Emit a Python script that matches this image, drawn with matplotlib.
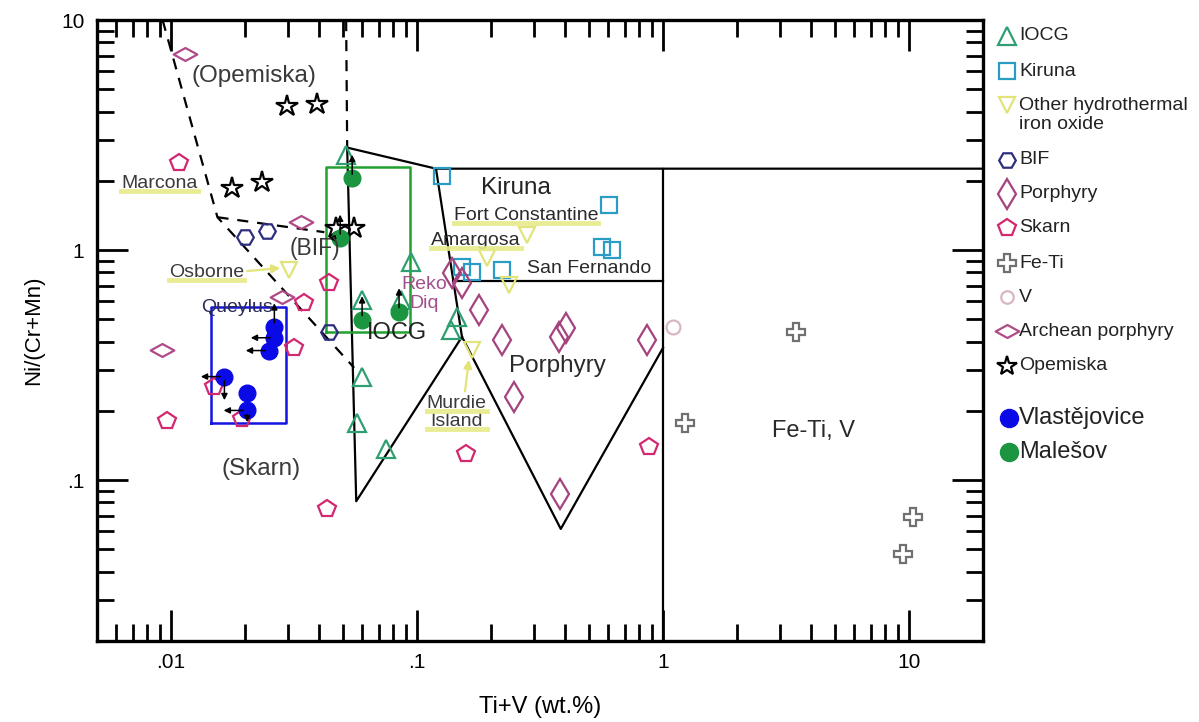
import matplotlib.pyplot as plt
import matplotlib.path as mpath
from matplotlib.ticker import FixedLocator, LogLocator, NullFormatter
from matplotlib.lines import Line2D

plt.rcParams['font.family'] = ['Liberation Sans', 'DejaVu Sans']

# reference deposit types: Ti+V (wt.%) vs Ni/(Cr+Mn)
iocg_x = [0.0515, 0.0945, 0.0598, 0.0861, 0.145, 0.137, 0.0598, 0.0571, 0.0749]
iocg_y = [2.58, 0.887, 0.608, 0.608, 0.513, 0.451, 0.282, 0.178, 0.136]
kiruna_x = [0.126, 0.601, 0.563, 0.618, 0.152, 0.167, 0.221]
kiruna_y = [2.11, 1.566, 1.03, 1.0, 0.844, 0.803, 0.819]
other_x = [0.0302, 0.279, 0.192, 0.236, 0.167]
other_y = [0.819, 1.16, 0.923, 0.706, 0.369]
bif_x = [0.0199, 0.0246, 0.0440]
bif_y = [1.138, 1.21, 0.442]
porphyry_x = [0.139, 0.152, 0.1785, 0.221, 0.377, 0.402, 0.857, 0.247, 0.380]
porphyry_y = [0.795, 0.72, 0.55, 0.408, 0.42, 0.46, 0.408, 0.231, 0.087]
skarn_x = [0.0108, 0.0440, 0.0348, 0.0317, 0.0150, 0.00959, 0.0195, 0.158, 0.0431, 0.873]
skarn_y = [2.38, 0.72, 0.590, 0.376, 0.253, 0.180, 0.184, 0.130, 0.0749, 0.140]
feti_x = [3.48, 1.234, 10.38, 9.46]
feti_y = [0.442, 0.178, 0.0691, 0.0478]
v_x = [1.103]
v_y = [0.464]
arch_x = [0.01135, 0.0338, 0.0283, 0.00915]
arch_y = [7.12, 1.32, 0.626, 0.369]
opemiska_x = [0.0297, 0.0393, 0.01776, 0.0235, 0.0469, 0.0555]
opemiska_y = [4.24, 4.33, 1.855, 1.97, 1.245, 1.245]

# samples from this study
vlast_x = [0.0263, 0.0263, 0.0251, 0.01648, 0.0204, 0.0204]
vlast_y = [0.464, 0.416, 0.366, 0.282, 0.240, 0.201]
vlast_arrows = [[(0, 1)], [(-1, 0)], [(-1, 0)], [(-1, 0), (0, -1)], [], [(-1, 0), (0, -0.5)]]
males_x = [0.0545, 0.0487, 0.0598, 0.0845]
males_y = [2.05, 1.127, 0.498, 0.539]
males_arrows = [[(0, 1)], [(0, 1), (-0.5, 0)], [(0, 1)], [(0, 1)]]

# field boundaries
dash_left = ([0.00924, 0.01544, 0.0555], [10, 1.39, 0.308])
dash_bif = ([0.01544, 0.042], [1.39, 1.197])
dash_right = ([0.0515, 0.052], [10, 2.79])
solid_lines = [
    ([0.052, 0.0566, 0.1523], [2.79, 0.081, 0.42]),
    ([0.052, 0.1194, 20], [2.79, 2.26, 2.26]),
    ([0.1194, 0.1523, 0.384, 1.0], [2.26, 0.42, 0.0614, 0.376]),
    ([0.1406, 1.0], [0.734, 0.734]),
    ([1.0, 1.0], [2.26, 0.02]),
]
iocg_box = (0.0428, 0.0937, 0.442, 2.29)
vlast_box = (0.0146, 0.0294, 0.1766, 0.567)

c_iocg = '#2f9e70'
c_kiruna = '#2a9cc6'
c_other = '#e2e47a'
c_bif = '#2e2e7e'
c_porph = '#a4437e'
c_skarn = '#d2286f'
c_feti = '#707070'
c_v = '#d9b6c6'
c_arch = '#b04a88'
c_vlast = '#0a0ae6'
c_males = '#1b9540'
c_hl = '#e6ea8a'

wide_diamond = mpath.Path([(-1, 0), (0, 0.55), (1, 0), (0, -0.55), (-1, 0)], closed=True)
quatrefoil = 'P'

fig = plt.figure(figsize=(11.99, 7.22), dpi=100)
ax = fig.add_axes([0.0809, 0.1122, 0.739, 0.860])
ax.set_xscale('log')
ax.set_yscale('log')
ax.set_xlim(0.005, 20)
ax.set_ylim(0.02, 10)

for xs, ys in (dash_left, dash_bif, dash_right):
    ax.plot(xs, ys, color='black', lw=1.6, ls=(0, (5, 4)), zorder=2)
for xs, ys in solid_lines:
    ax.plot(xs, ys, color='black', lw=1.6, zorder=2)

x0, x1, y0, y1 = iocg_box
ax.plot([x0, x1, x1, x0, x0], [y0, y0, y1, y1, y0], color='#22a030', lw=1.8, zorder=2)
x0, x1, y0, y1 = vlast_box
ax.plot([x0, x1, x1, x0, x0], [y0, y0, y1, y1, y0], color='#1414e0', lw=1.8, zorder=2)

open_kw = dict(ls='none', mfc='none', mew=1.6, zorder=3)
ax.plot(iocg_x, iocg_y, marker='^', ms=13, mec=c_iocg, **open_kw)
ax.plot(kiruna_x, kiruna_y, marker='s', ms=11, mec=c_kiruna, **open_kw)
ax.plot(other_x, other_y, marker='v', ms=12, mec=c_other, **open_kw)
ax.plot(bif_x, bif_y, marker='H', ms=12, mec=c_bif, **open_kw)
ax.plot(porphyry_x, porphyry_y, marker='d', ms=15, mec=c_porph, **open_kw)
ax.plot(skarn_x, skarn_y, marker='p', ms=13, mec=c_skarn, **open_kw)
ax.plot(feti_x, feti_y, marker=quatrefoil, ms=13, mec=c_feti, **open_kw)
ax.plot(v_x, v_y, marker='o', ms=10, mec=c_v, **open_kw)
ax.plot(arch_x, arch_y, marker=wide_diamond, ms=17, mec=c_arch, **open_kw)
ax.plot(opemiska_x, opemiska_y, marker='*', ms=16, mec='black', **open_kw)

ax.plot(vlast_x, vlast_y, marker='o', ms=12, ls='none', color=c_vlast, zorder=5)
ax.plot(males_x, males_y, marker='o', ms=12, ls='none', color=c_males, zorder=5)

for xs, ys, arrs in ((vlast_x, vlast_y, vlast_arrows), (males_x, males_y, males_arrows)):
    for x, y, dirs in zip(xs, ys, arrs):
        for dx, dy in dirs:
            ax.annotate('', xy=(x, y), xytext=(dx * 17, dy * 17), textcoords='offset points',
                        arrowprops=dict(arrowstyle='<|-', color='black', lw=1.1,
                                        mutation_scale=9, shrinkA=0, shrinkB=3),
                        zorder=6)

# field names and deposit labels
labels = [
    ('(Opemiska)', 0.0218, 5.72, 17.5, '#3a3a3a', False),
    ('Marcona', 0.00898, 1.95, 14, '#3a3a3a', True),
    ('(BIF)', 0.0386, 1.02, 16.5, '#3a3a3a', False),
    ('Osborne', 0.01393, 0.803, 14, '#3a3a3a', True),
    ('Queylus', 0.01862, 0.561, 14, '#2a2a55', False),
    ('(Skarn)', 0.02328, 0.1116, 17.5, '#3a3a3a', False),
    ('IOCG', 0.0829, 0.437, 17, '#222222', False),
    ('Reko\nDiq', 0.1067, 0.645, 14, '#a0508a', False),
    ('Kiruna', 0.252, 1.855, 17.5, '#222222', False),
    ('Fort Constantine', 0.277, 1.418, 14, '#2a2a2a', True),
    ('Amargosa', 0.1735, 1.105, 14, '#2a2a2a', True),
    ('San Fernando', 0.503, 0.836, 14, '#2a2a2a', False),
    ('Porphyry', 0.373, 0.315, 17.5, '#2a2a2a', False),
    ('Murdie\nIsland', 0.145, 0.197, 14, '#3a3a3a', True),
    ('Fe-Ti, V', 4.08, 0.163, 17, '#2a2a2a', False),
]
underlined = []
for txt, x, y, fs, col, ul in labels:
    t = ax.text(x, y, txt, fontsize=fs, color=col, ha='center', va='center',
                linespacing=1.12, zorder=7)
    if ul:
        underlined.append(t)

ax.annotate('', xy=(0.0278, 0.836), xytext=(0.0204, 0.811),
            arrowprops=dict(arrowstyle='-|>', color=c_other, lw=1.6, mutation_scale=12,
                            shrinkA=0, shrinkB=0))
ax.annotate('', xy=(0.1625, 0.334), xytext=(0.1566, 0.243),
            arrowprops=dict(arrowstyle='-|>', color=c_other, lw=1.6, mutation_scale=12,
                            shrinkA=0, shrinkB=0))

ax.xaxis.set_major_locator(FixedLocator([0.01, 0.1, 1, 10]))
ax.set_xticklabels(['.01', '.1', '1', '10'])
ax.yaxis.set_major_locator(FixedLocator([0.1, 1, 10]))
ax.set_yticklabels(['.1', '1', '10'])
for axis in (ax.xaxis, ax.yaxis):
    axis.set_minor_locator(LogLocator(base=10, subs=range(2, 10), numticks=20))
    axis.set_minor_formatter(NullFormatter())
ax.tick_params(which='both', direction='in', top=True, right=True, width=2, labelsize=15, pad=9)
ax.tick_params(which='major', length=22)
ax.tick_params(which='minor', length=12)
for s in ax.spines.values():
    s.set_linewidth(2.4)

ax.set_xlabel('Ti+V (wt.%)', fontsize=17, labelpad=17)
ax.set_ylabel('Ni/(Cr+Mn)', fontsize=16, labelpad=12)

# highlight bars under the named deposits
fig.canvas.draw()
renderer = fig.canvas.get_renderer()
inv = fig.transFigure.inverted()
for t in underlined:
    lines = t.get_text().split('\n')
    bb = t.get_window_extent(renderer)
    h = bb.height / len(lines)
    for i in range(len(lines)):
        ybase = bb.y1 - h * (i + 1) + 1
        (fx0, fy), (fx1, _) = inv.transform([(bb.x0, ybase), (bb.x1, ybase)])
        fig.add_artist(Line2D([fx0, fx1], [fy, fy], color=c_hl, lw=3.5, alpha=0.9,
                              zorder=1, transform=fig.transFigure))

# legend drawn in figure pixel space
lax = fig.add_axes([0, 0, 1, 1], zorder=10)
lax.set_xlim(0, 1199)
lax.set_ylim(722, 0)
lax.axis('off')
legend_rows = [
    ('IOCG', '^', c_iocg, 36, 13, False, 14),
    ('Kiruna', 's', c_kiruna, 71, 11, False, 14),
    ('Other hydrothermal\niron oxide', 'v', c_other, 115, 11, False, 14),
    ('BIF', 'H', c_bif, 160, 12, False, 14),
    ('Porphyry', 'd', c_porph, 194, 15, False, 14),
    ('Skarn', 'p', c_skarn, 228, 13, False, 14),
    ('Fe-Ti', quatrefoil, c_feti, 263, 13, False, 14),
    ('V', 'o', c_v, 297, 9, False, 14),
    ('Archean porphyry', wide_diamond, c_arch, 331, 17, False, 14),
    ('Opemiska', '*', 'black', 366, 15, False, 14),
    ('Vlastějovice', 'o', c_vlast, 418, 13, True, 17),
    ('Malešov', 'o', c_males, 452, 13, True, 17),
]
for name, mk, col, y, ms, filled, fs in legend_rows:
    my = 105 if '\n' in name else y
    if filled:
        lax.plot([1009], [my], marker=mk, ms=ms, color=col, ls='none')
    else:
        lax.plot([1007], [my], marker=mk, ms=ms, mec=col, mfc='none', mew=1.6, ls='none')
    lax.text(1019, y, name, fontsize=fs, color='#222222', ha='left', va='center',
             linespacing=1.2)

fig.savefig('out.png', dpi=100)
